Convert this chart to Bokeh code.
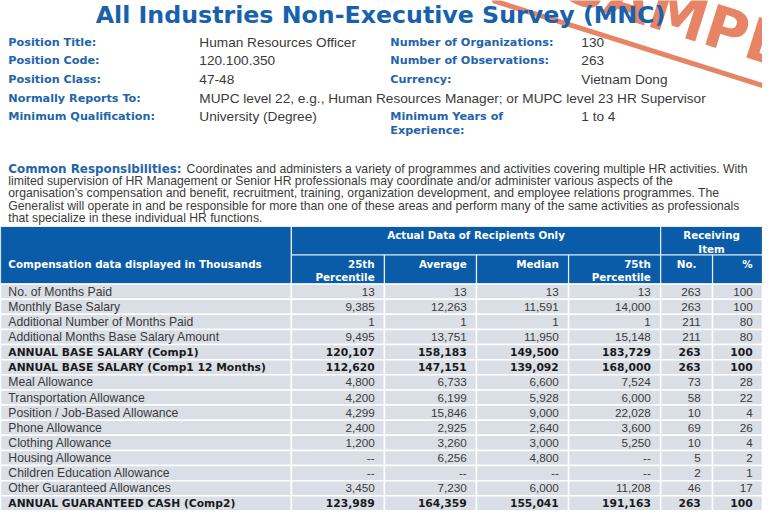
from bokeh.plotting import figure
from bokeh.models import Range1d, ColumnDataSource
from bokeh.core.properties import value
from bokeh.embed import file_html
from bokeh.resources import INLINE
import math

# ---------------- data ----------------
title = "All Industries Non-Executive Survey (MNC)"

info_left_labels = ["Position Title:", "Position Code:", "Position Class:",
                    "Normally Reports To:", "Minimum Qualification:"]
info_left_values = ["Human Resources Officer", "120.100.350", "47-48",
                    "MUPC level 22, e.g., Human Resources Manager; or MUPC level  23 HR Supervisor",
                    "University (Degree)"]
info_right_labels = ["Number of Organizations:", "Number of Observations:", "Currency:"]
info_right_values = ["130", "263", "Vietnam Dong"]
exp_label = ["Minimum Years of", "Experience:"]
exp_value = "1 to 4"

resp_label = "Common Responsibilities:"
resp_lines = [
    "Coordinates and administers a variety of programmes and activities covering multiple HR activities. With",
    "limited supervision of HR Management or Senior HR professionals may coordinate and/or administer various aspects of the",
    "organisation's compensation and benefit, recruitment, training, organization development, and employee relations programmes. The",
    "Generalist will operate in and be responsible for more than one of these areas and perform many of the same activities as professionals",
    "that specialize in these individual HR functions.",
]

row_labels = [
    "No. of Months Paid", "Monthly Base Salary", "Additional Number of Months Paid",
    "Additional Months Base Salary Amount", "ANNUAL BASE SALARY (Comp1)",
    "ANNUAL BASE SALARY (Comp1 12 Months)", "Meal Allowance", "Transportation Allowance",
    "Position / Job-Based Allowance", "Phone Allowance", "Clothing Allowance",
    "Housing Allowance", "Children Education Allowance", "Other Guaranteed Allowances",
    "ANNUAL GUARANTEED CASH (Comp2)",
]
bold_rows = [4, 5, 14]
p25 = [13, 9385, 1, 9495, 120107, 112620, 4800, 4200, 4299, 2400, 1200, None, None, 3450, 123989]
avg = [13, 12263, 1, 13751, 158183, 147151, 6733, 6199, 15846, 2925, 3260, 6256, None, 7230, 164359]
med = [13, 11591, 1, 11950, 149500, 139092, 6600, 5928, 9000, 2640, 3000, 4800, None, 6000, 155041]
p75 = [13, 14000, 1, 15148, 183729, 168000, 7524, 6000, 22028, 3600, 5250, None, None, 11208, 191163]
rec_no = [263, 263, 211, 211, 263, 263, 73, 58, 10, 69, 10, 5, 2, 46, 263]
rec_pct = [100, 100, 80, 80, 100, 100, 28, 22, 4, 26, 4, 2, 1, 17, 100]

hdr_left = "Compensation data displayed in Thousands"
hdr_group = "Actual Data of Recipients Only"
hdr_recv = ["Receiving", "Item"]
col_headers = [["25th", "Percentile"], ["Average"], ["Median"], ["75th", "Percentile"], ["No."], ["%"]]
stamp_word = "SAMPLE"

# ---------------- layout / style ----------------
W, H = 778, 526
PW, PH = 762, 510
FS = 0.975

BLUE_T = "#1862ad"
BLUE_L = "#2364ab"
HDR = "#0b5ca8"
CELL = "#dadfe7"
GRAY = "#3a3a3a"
STAMP = "#e0653f"

SANS = "Liberation Sans"
BOLD = "DejaVu Sans"


def fs(v):
    return value(f"{v * FS:.2f}px")


p = figure(width=PW, height=PH, x_range=Range1d(0, W), y_range=Range1d(H, 0),
           output_backend="svg", toolbar_location=None, min_border=0,
           x_axis_location=None, y_axis_location=None)
p.grid.visible = False
p.outline_line_color = None
p.background_fill_color = "white"
p.border_fill_color = "white"


def txt(x, y, s, size, color, font=SANS, style="normal", align="left",
        baseline="middle", angle=0.0, alpha=1.0):
    p.text(x=[x], y=[y], text=[s], text_font=value(font), text_font_size=fs(size),
           text_font_style=style, text_color=color, text_align=align,
           text_baseline=baseline, angle=angle, text_alpha=alpha)


# ---------------- stamp (behind) ----------------
th = math.radians(17.5)
ang = -th
ux, uy = math.sin(th), -math.cos(th)          # "up" direction of the stamp on screen
dx, dy = math.cos(th), math.sin(th)           # reading direction of the stamp on screen
bmx, bmy = 680, 56.5                          # middle of stamp's bottom border
SH, SW = 100, 370
p.rect(x=[bmx + ux * SH / 2], y=[bmy + uy * SH / 2], width=[SW], height=[SH], angle=[ang],
       fill_color=None, line_color=STAMP, line_width=5, line_alpha=0.8)
txt(bmx + ux * 43 + dx * 16, bmy + uy * 43 + dy * 16, stamp_word, 60, STAMP, font=BOLD,
    style="bold", align="center", baseline="alphabetic", angle=ang, alpha=0.8)

# ---------------- title + info ----------------
txt(388, 15, title, 24.3, BLUE_T, font=BOLD, style="bold", align="center")

info_y = [43, 62, 81.5, 101, 120]
for i, (lab, val) in enumerate(zip(info_left_labels, info_left_values)):
    txt(8, info_y[i], lab, 11.5, BLUE_L, font=BOLD, style="bold")
    txt(203, info_y[i], val, 14, GRAY)
for i, (lab, val) in enumerate(zip(info_right_labels, info_right_values)):
    txt(398, info_y[i], lab, 11.5, BLUE_L, font=BOLD, style="bold")
    txt(593, info_y[i], val, 14, GRAY)
txt(398, 120, exp_label[0], 11.5, BLUE_L, font=BOLD, style="bold")
txt(398, 134, exp_label[1], 11.5, BLUE_L, font=BOLD, style="bold")
txt(593, 120, exp_value, 14, GRAY)

# ---------------- responsibilities ----------------
resp_y = [174, 186.5, 199, 211.5, 224]
txt(8, resp_y[0], resp_label, 12.2, BLUE_L, font=BOLD, style="bold")
txt(190, resp_y[0], resp_lines[0], 12.5, GRAY)
for k in range(1, len(resp_lines)):
    txt(8, resp_y[k], resp_lines[k], 12.5, GRAY)

# ---------------- table ----------------
col_edges = [0, 297, 392, 486, 580, 674, 727, 778]
HT, HM, HB = 233, 262.5, 292.5
RH = 15.6
n = len(row_labels)
HF = 10.6

# header cells
hl, hr, ht, hb = [], [], [], []
hl += [col_edges[0]]; hr += [col_edges[1]]; ht += [HT]; hb += [HB]
hl += [col_edges[1]]; hr += [col_edges[5]]; ht += [HT]; hb += [HM]
hl += [col_edges[5]]; hr += [col_edges[7]]; ht += [HT]; hb += [HM]
for j in range(1, 7):
    hl.append(col_edges[j]); hr.append(col_edges[j + 1]); ht.append(HM); hb.append(HB)
p.quad(left=hl, right=hr, top=ht, bottom=hb, fill_color=HDR, line_color="#e8eef6",
       line_width=1.2)

txt(8, 272, hdr_left, HF, "white", font=BOLD, style="bold")
txt((col_edges[1] + col_edges[5]) / 2, 242, hdr_group, HF, "white", font=BOLD, style="bold", align="center")
txt((col_edges[5] + col_edges[7]) / 2, 242, hdr_recv[0], HF, "white", font=BOLD, style="bold", align="center")
txt((col_edges[5] + col_edges[7]) / 2, 256, hdr_recv[1], HF, "white", font=BOLD, style="bold", align="center")
for j, lines in enumerate(col_headers):
    if j == 4:
        xx, al = (col_edges[5] + col_edges[6]) / 2, "center"
    else:
        xx, al = col_edges[j + 2] - 10, "right"
    for k, s in enumerate(lines):
        txt(xx, 272 + 13.5 * k, s, HF, "white", font=BOLD, style="bold", align=al)

# body cells
bl, br, bt, bb = [], [], [], []
for i in range(n):
    for j in range(7):
        bl.append(col_edges[j]); br.append(col_edges[j + 1])
        bt.append(HB + i * RH); bb.append(HB + (i + 1) * RH)
p.quad(left=bl, right=br, top=bt, bottom=bb, fill_color=CELL, line_color="white",
       line_width=1.5)


def fmt(v):
    return "--" if v is None else f"{v:,}"


row_y = [HB + (i + 0.5) * RH for i in range(n)]
normal = [i for i in range(n) if i not in bold_rows]


def col_text(xs, texts, idx, align, bold, size_n=12):
    src = ColumnDataSource(dict(x=[xs] * len(idx), y=[row_y[i] for i in idx],
                                t=[texts[i] for i in idx]))
    if bold:
        p.text(x="x", y="y", text="t", source=src, text_font=value(BOLD),
               text_font_style="bold", text_font_size=fs(11), text_color="#1a1a1a",
               text_align=align, text_baseline="middle")
    else:
        p.text(x="x", y="y", text="t", source=src, text_font=value(SANS),
               text_font_size=fs(size_n), text_color=GRAY, text_align=align,
               text_baseline="middle")


col_text(8, row_labels, normal, "left", False, 12.5)
col_text(8, row_labels, bold_rows, "left", True)

num_cols = [p25, avg, med, p75, rec_no, rec_pct]
num_x = [382, 476, 570, 664, 715, 768]
for vals, xx in zip(num_cols, num_x):
    t = [fmt(v) for v in vals]
    col_text(xx, t, normal, "right", False, 12)
    col_text(xx, t, bold_rows, "right", True)

open("out.html", "w").write(file_html(p, INLINE))
